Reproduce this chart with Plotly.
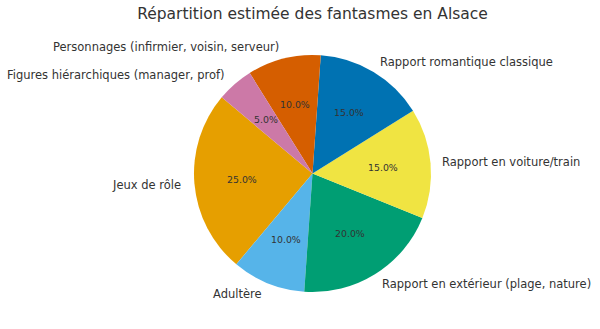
import math
import plotly.graph_objects as go

labels = ["Jeux de rôle", "Adultère", "Rapport en extérieur (plage, nature)",
          "Rapport en voiture/train", "Rapport romantique classique",
          "Personnages (infirmier, voisin, serveur)", "Figures hiérarchiques (manager, prof)"]
values = [25, 10, 20, 15, 15, 10, 5]
colors = ["#E69F00", "#56B4E9", "#009E73", "#F0E442", "#0072B2", "#D55E00", "#CC79A7"]
title = "Répartition estimée des fantasmes en Alsace"
start_angle = 140  # degrees, counterclockwise from 3 o'clock

W, H = 600, 329
cx, cy, r = 312.5, 173.5, 118.5  # pixel centre (from top) and radius
dom_x = [(cx - r) / W, (cx + r) / W]
dom_y = [(H - cy - r) / H, (H - cy + r) / H]

total = sum(values)
# plotly: first slice spans clockwise [rotation, rotation + size] measured from 12 o'clock
rotation = 90 - start_angle - 360 * values[0] / total

fig = go.Figure(go.Pie(
    labels=labels, values=values, sort=False, direction="counterclockwise",
    rotation=rotation, marker=dict(colors=colors, line=dict(width=0)),
    textinfo="none", hoverinfo="label+percent", showlegend=False,
    domain=dict(x=dom_x, y=dom_y),
))

annotations = []
acc = 0
for lab, v in zip(labels, values):
    mid = math.radians(start_angle + 360 * (acc + v / 2) / total)
    acc += v
    c, s = math.cos(mid), math.sin(mid)
    lx, ly = cx + 1.1 * r * c, cy - 1.1 * r * s
    annotations.append(dict(x=lx / W, y=1 - ly / H, xref="paper", yref="paper",
                            text=lab, showarrow=False,
                            xanchor="left" if c > 0 else "right", yanchor="middle",
                            xshift=-2 if c > 0 else 0,
                            font=dict(size=11.5, color="#333333")))
    px, py = cx + 0.6 * r * c, cy - 0.6 * r * s
    annotations.append(dict(x=px / W, y=1 - py / H, xref="paper", yref="paper",
                            text=f"{100 * v / total:.1f}%", showarrow=False,
                            xanchor="center", yanchor="middle",
                            font=dict(size=9.4, color="#333333")))

fig.update_layout(
    width=W, height=H, margin=dict(l=0, r=0, t=0, b=0),
    paper_bgcolor="white", plot_bgcolor="white",
    font=dict(family="DejaVu Sans", color="#333333"),
    title=dict(text=title, x=312.5 / W, xanchor="center", y=1 - 14 / H, yanchor="middle",
               font=dict(size=15.5, color="#333333")),
    annotations=annotations,
)
fig.write_html("out.html")
